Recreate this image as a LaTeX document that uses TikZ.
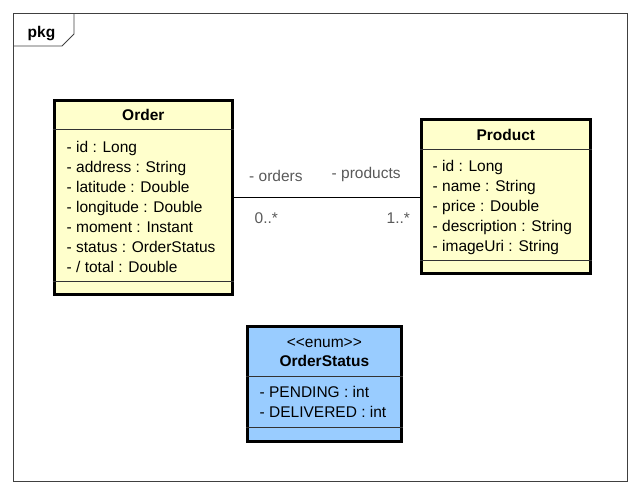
\documentclass[tikz,border=0pt]{standalone}
\usepackage{fontspec}
\setmainfont{Liberation Sans}
\definecolor{gul}{RGB}{255,255,204}
\definecolor{blaa}{RGB}{153,204,255}
\tikzset{
  klasse/.style={draw=black, line width=3pt, inner sep=0pt, rectangle},
  skille/.style={draw=black!80, line width=0.8pt},
  felt/.style={anchor=base west, inner sep=0pt, font=\fontsize{15.5}{18}\selectfont},
  tittel/.style={anchor=base, inner sep=0pt, font=\bfseries\fontsize{15.5}{18}\selectfont},
  rolle/.style={anchor=base west, inner sep=0pt, text=black!65, font=\fontsize{15.5}{18}\selectfont},
}
\begin{document}
\begin{tikzpicture}[x=1pt,y=-1pt]
    \useasboundingbox (0,0) rectangle (641,494);
    %Ramme
        \draw[black!75, line width=0.8pt] (13.5,13.5) rectangle (627.5,481.5);
        \draw[black!75, line width=0.8pt] (13.5,46) -- (62,46) -- (74,34) -- (74,13.5);
        \node[tittel] (pkg) at (41.5,37.3) {pkg};
    %Order
        \node[klasse, fill=gul, minimum width=178.3pt, minimum height=194.3pt] (order) at (143.35,197.35) {};
        \draw[skille] (order.west |- 0,129.5) -- (order.east |- 0,129.5);
        \draw[skille] (order.west |- 0,281.5) -- (order.east |- 0,281.5);
        \node[tittel] (ordertittel) at (order.north |- 0,120.5) {Order};
        \node[felt] (o1) at (66.5,152.5) {- id : Long};
        \node[felt] (o2) at (66.5,172.5) {- address : String};
        \node[felt] (o3) at (66.5,192.5) {- latitude : Double};
        \node[felt] (o4) at (66.5,212.5) {- longitude : Double};
        \node[felt] (o5) at (66.5,232.5) {- moment : Instant};
        \node[felt] (o6) at (66.5,252.5) {- status : OrderStatus};
        \node[felt] (o7) at (66.5,272.5) {- / total : Double};
    %Product
        \node[klasse, fill=gul, minimum width=168.7pt, minimum height=154pt] (product) at (505.85,196.5) {};
        \draw[skille] (product.west |- 0,149) -- (product.east |- 0,149);
        \draw[skille] (product.west |- 0,260.5) -- (product.east |- 0,260.5);
        \node[tittel] (producttittel) at (product.north |- 0,140.5) {Product};
        \node[felt] (p1) at (432.5,171.5) {- id : Long};
        \node[felt] (p2) at (432.5,191.5) {- name : String};
        \node[felt] (p3) at (432.5,211.5) {- price : Double};
        \node[felt] (p4) at (432.5,231.5) {- description : String};
        \node[felt] (p5) at (432.5,251.5) {- imageUri : String};
    %Forbindelse
        \draw[black, line width=0.8pt] (order.east) -- (product.west |- order.east);
        \node[rolle] (orders) at (249,181.5) {- orders};
        \node[rolle] (products) at (331.5,178.3) {- products};
        \node[rolle] (ordersmult) at (254.5,223.3) {0..*};
        \node[rolle] (productsmult) at (386.5,223.3) {1..*};
    %OrderStatus
        \node[klasse, fill=blaa, minimum width=153.7pt, minimum height=114.7pt] (status) at (324.35,383.85) {};
        \draw[skille] (status.west |- 0,376.7) -- (status.east |- 0,376.7);
        \draw[skille] (status.west |- 0,427) -- (status.east |- 0,427);
        \node[felt, anchor=base] (stereo) at (status.north |- 0,347.5) {<{}<enum>{}>};
        \node[tittel] (statustittel) at (status.north |- 0,367) {OrderStatus};
        \node[felt] (s1) at (259.5,398) {- PENDING : int};
        \node[felt] (s2) at (259.5,418) {- DELIVERED : int};
\end{tikzpicture}
\end{document}
